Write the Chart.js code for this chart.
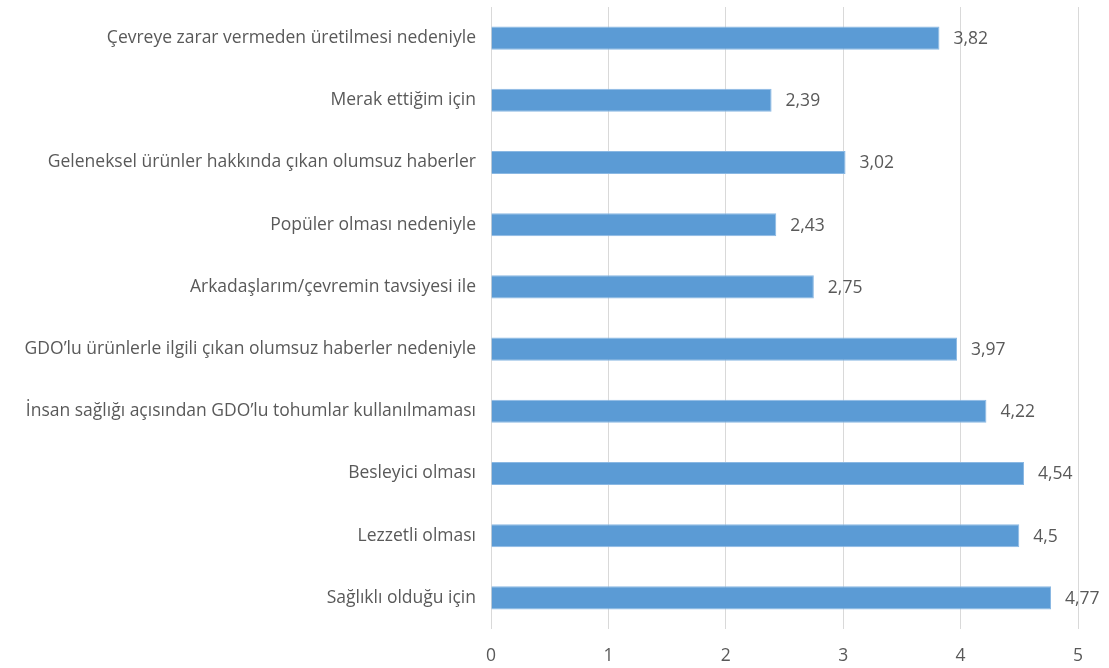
<!DOCTYPE html>
<html lang="tr">
<head>
<meta charset="utf-8">
<script src="https://cdn.jsdelivr.net/npm/chart.js@4/dist/chart.umd.min.js"></script>
<style>
  html, body { margin: 0; padding: 0; background: #fff; }
  #wrap { width: 1109px; height: 668px; }
</style>
</head>
<body>
<div id="wrap"><canvas id="reasonsChart"></canvas></div>
<script>
const reasons = [
    'Çevreye zarar vermeden üretilmesi nedeniyle',
    'Merak ettiğim için',
    'Geleneksel ürünler hakkında çıkan olumsuz haberler',
    'Popüler olması nedeniyle',
    'Arkadaşlarım/çevremin tavsiyesi ile',
    'GDO’lu ürünlerle ilgili çıkan olumsuz haberler nedeniyle',
    'İnsan sağlığı açısından GDO’lu tohumlar kullanılmaması',
    'Besleyici olması',
    'Lezzetli olması',
    'Sağlıklı olduğu için'
];
const scores = [3.82, 2.39, 3.02, 2.43, 2.75, 3.97, 4.22, 4.54, 4.5, 4.77];
const scoreTicks = [0, 1, 2, 3, 4, 5];

const fontFamily = '"Open Sans", "Noto Sans", sans-serif';
const fontSize = 17.5;
const textColor = '#595959';

// writes each score just past the end of its bar, with a decimal comma
const valueLabels = {
    id: 'valueLabels',
    afterDatasetsDraw(chart) {
        const ctx = chart.ctx;
        const meta = chart.getDatasetMeta(0);
        ctx.save();
        ctx.font = fontSize + 'px ' + fontFamily;
        ctx.fillStyle = textColor;
        ctx.textAlign = 'left';
        ctx.textBaseline = 'middle';
        meta.data.forEach((bar, i) => {
            const text = String(chart.data.datasets[0].data[i]).replace('.', ',');
            ctx.fillText(text, bar.x + 14, bar.y + 1);
        });
        ctx.restore();
    }
};

const ctx = document.getElementById('reasonsChart').getContext('2d');
new Chart(ctx, {
    type: 'bar',
    data: {
        labels: reasons,
        datasets: [{
            data: scores,
            backgroundColor: '#5b9bd5',
            borderColor: '#8ab8e3',
            borderWidth: 1,
            barPercentage: 0.6,
            categoryPercentage: 0.62
        }]
    },
    options: {
        indexAxis: 'y',
        responsive: true,
        maintainAspectRatio: false,
        animation: false,
        layout: {
            padding: { top: 7, right: 31, bottom: 0, left: 0 }
        },
        plugins: {
            legend: { display: false },
            tooltip: { enabled: false }
        },
        scales: {
            x: {
                min: 0,
                max: 5,
                afterBuildTicks: scale => {
                    scale.ticks = scoreTicks.map(v => ({ value: v }));
                },
                afterFit: scale => { scale.height = 39; },
                grid: {
                    color: '#d9d9d9',
                    lineWidth: 1,
                    drawTicks: false
                },
                border: { display: false },
                ticks: {
                    padding: 17,
                    color: textColor,
                    font: { family: fontFamily, size: fontSize }
                }
            },
            y: {
                afterFit: scale => {
                    scale.width = 491;
                    // keep the label padding from growing the plot margins
                    scale.paddingTop = 0;
                    scale.paddingBottom = 0;
                },
                grid: { display: false, drawTicks: false },
                border: { display: false },
                ticks: {
                    padding: 15,
                    color: textColor,
                    font: { family: fontFamily, size: fontSize }
                }
            }
        }
    },
    plugins: [valueLabels]
});
</script>
</body>
</html>
